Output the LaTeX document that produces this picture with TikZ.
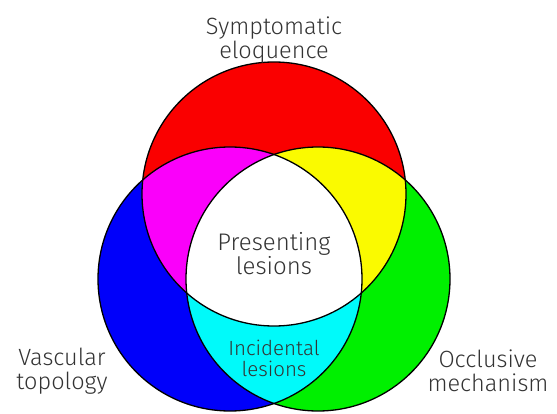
\documentclass[tikz,border=0pt]{standalone}
\usepackage{fontspec}
\setmainfont{Fira Sans Light}
\definecolor{cR}{RGB}{250,0,0}
\definecolor{cB}{RGB}{0,0,250}
\definecolor{cG}{RGB}{0,240,0}
\definecolor{cM}{RGB}{250,0,250}
\definecolor{cY}{RGB}{250,250,0}
\definecolor{cC}{RGB}{0,250,250}
\begin{document}
\begin{tikzpicture}[x=1pt,y=1pt,
  outline/.style={draw=black,line width=1.3pt},
  lbl/.style={text=black!80,align=center,font=\fontsize{23.5}{23.5}\selectfont,inner sep=0pt},
  inlbl/.style={text=black!80,align=center,font=\fontsize{24}{21.5}\selectfont,inner sep=0pt}]
\useasboundingbox (0,0) rectangle (557,413);
\coordinate (R) at (274,219);
\coordinate (B) at (230,134);
\coordinate (G) at (318,134);
\def\rad{132}
% base fills
\fill[cR] (R) circle (\rad);
\fill[cB] (B) circle (\rad);
\fill[cG] (G) circle (\rad);
% pairwise overlaps
\begin{scope}
  \clip (R) circle (\rad);
  \fill[cM] (B) circle (\rad);
  \fill[cY] (G) circle (\rad);
\end{scope}
\begin{scope}
  \clip (B) circle (\rad);
  \fill[cC] (G) circle (\rad);
\end{scope}
\begin{scope}
  \clip (R) circle (\rad);
  \clip (B) circle (\rad);
  \fill[white] (G) circle (\rad);
\end{scope}
% outlines
\draw[outline] (R) circle (\rad);
\draw[outline] (B) circle (\rad);
\draw[outline] (G) circle (\rad);
% labels
\node[lbl] (sym) at (274,373) {Symptomatic\\eloquence};
\node[lbl] (vas) at (62,42) {Vascular\\topology};
\node[lbl] (occ) at (488,42) {Occlusive\\mechanism};
\node[inlbl] (pres) at (274,159) {Presenting\\lesions};
\node[lbl,font=\fontsize{20.5}{21}\selectfont] (inc) at (274,55) {Incidental\\lesions};
\end{tikzpicture}
\end{document}
